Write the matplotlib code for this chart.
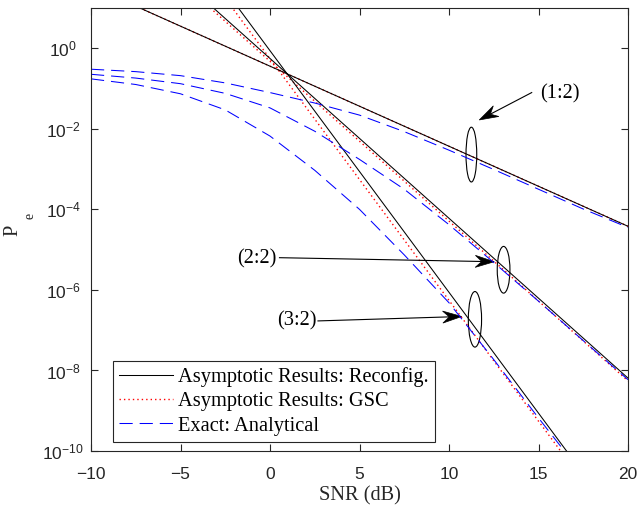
import numpy as np
import matplotlib
matplotlib.use("Agg")
import matplotlib.pyplot as plt
from matplotlib.patches import Ellipse, Polygon
from matplotlib.lines import Line2D
from matplotlib.ticker import NullLocator
from matplotlib.transforms import IdentityTransform

# ---------------- data ----------------
snr_asym = [-10, 20]
reconfig_12 = [34.9, 3.80e-5]
reconfig_22 = [5190.0, 6.46e-9]
reconfig_32 = [8.71e5, 8.71e-13]
gsc_12 = [34.9, 3.80e-5]
gsc_22 = [4416.0, 5.50e-9]
gsc_32 = [5.50e5, 5.50e-13]

snr_exact = [-10, -7.5, -5, -2.5, 0, 2.5, 5, 7.5, 10, 12.5, 15, 17.5, 20]
exact_12 = [3.02e-1, 2.63e-1, 2.09e-1, 1.38e-1, 7.94e-2, 4.37e-2, 2.19e-2,
            8.51e-3, 2.95e-3, 9.77e-4, 3.16e-4, 1.02e-4, 3.55e-5]
exact_22 = [2.26e-1, 1.82e-1, 1.32e-1, 7.59e-2, 3.31e-2, 8.71e-3, 1.74e-3,
            3.16e-4, 4.17e-5, 4.79e-6, 5.25e-7, 5.50e-8, 5.89e-9]
exact_32 = [1.74e-1, 1.26e-1, 7.41e-2, 2.95e-2, 6.61e-3, 9.33e-4, 1.00e-4,
            7.41e-6, 4.79e-7, 1.86e-8, 6.61e-10, 2.51e-11, 1.0e-12]

x_ticks = [-10, -5, 0, 5, 10, 15, 20]
y_ticks = [1e-10, 1e-8, 1e-6, 1e-4, 1e-2, 1e0]

legend_labels = ["Asymptotic Results: Reconfig.",
                 "Asymptotic Results: GSC",
                 "Exact: Analytical"]

# annotation anchors (snr dB, Pe)
ann_labels = ["(1:2)", "(2:2)", "(3:2)"]
ann_text_pos = [(15.08, 10**-1.13), (0.39, 10**-5.23), (2.62, 10**-6.76)]
ann_tail = [(14.62, 10**-1.10), (0.53, 10**-5.20), (2.68, 10**-6.77)]
ann_head = [(11.69, 10**-1.78), (12.53, 10**-5.30), (10.71, 10**-6.66)]
# ellipses: centre (snr, log10 Pe), width dB, height decades
ell_centres = [(11.25, -2.64), (13.05, -5.50), (11.45, -6.73)]
ell_sizes = [(0.60, 1.36), (0.71, 1.16), (0.74, 1.38)]

# ---------------- style ----------------
plt.rcParams["font.family"] = ["Liberation Sans", "DejaVu Sans"]
plt.rcParams["mathtext.fontset"] = "custom"
plt.rcParams["mathtext.rm"] = "Liberation Sans"
plt.rcParams["lines.scale_dashes"] = False
serif = ["Liberation Serif", "DejaVu Serif"]
axcol = "#262626"
fs = 14.7

W, H = 637, 508
fig = plt.figure(figsize=(W / 100, H / 100), dpi=100)
ax = fig.add_axes([91 / W, 1 - 451 / H, (628 - 91) / W, (451 - 8) / H])

lw = 0.75
dot = (0, (1.0, 2.2))
dash = (0, (9.5, 5.0))
for y in (gsc_12, gsc_22, gsc_32):
    ax.plot(snr_asym, y, color="red", lw=1.0, linestyle=dot, zorder=2)
for y in (reconfig_12, reconfig_22, reconfig_32):
    ax.plot(snr_asym, y, color="black", lw=lw, zorder=2.1)
for y in (exact_12, exact_22, exact_32):
    ax.plot(snr_exact, y, color="blue", lw=lw, linestyle=dash, zorder=2.2)

ax.set_yscale("log")
ax.set_xlim(-10, 20)
ax.set_ylim(1e-10, 1e1)
ax.set_xticks(x_ticks)
ax.set_yticks(y_ticks)
ax.yaxis.set_minor_locator(NullLocator())
ax.xaxis.set_minor_locator(NullLocator())
ax.tick_params(direction="in", top=True, right=True, length=5, width=0.8,
               colors=axcol, labelsize=12.5)
ax.tick_params(axis="x", pad=11.5)
ax.tick_params(axis="y", pad=20)
plt.setp(ax.get_yticklabels(), ha="center")
for s in ax.spines.values():
    s.set_color(axcol)
    s.set_linewidth(0.8)

ax.set_xlabel("SNR (dB)", family=serif, fontsize=fs, color=axcol, labelpad=3)

# y label P_e
fig.text(13 / W, 1 - 230 / H, "P", rotation=90, family=serif, fontsize=fs,
         ha="center", va="center", color=axcol)
fig.text(30.5 / W, 1 - 216 / H, "e", rotation=90, family=serif, fontsize=10,
         ha="center", va="center", color=axcol)

handles = [Line2D([], [], color="black", lw=lw),
           Line2D([], [], color="red", lw=1.0, linestyle=dot),
           Line2D([], [], color="blue", lw=lw, linestyle=dash)]
leg = ax.legend(handles, legend_labels, loc="lower left",
                bbox_to_anchor=(0.0404, 0.021), borderaxespad=0,
                prop={"family": serif, "size": fs}, handlelength=2.65,
                handletextpad=0.27, borderpad=0.3, labelspacing=0.24,
                fancybox=False, framealpha=1, edgecolor=axcol)
leg.get_frame().set_linewidth(0.8)

# annotations: text, shaft and MATLAB-like swept arrow head
head_len, head_half, notch = 19.0, 6.0, 12.5
for lab, tp, tl, hd in zip(ann_labels, ann_text_pos, ann_tail, ann_head):
    ha = "left" if lab == "(1:2)" else "right"
    ax.text(tp[0], tp[1], lab, family=serif, fontsize=fs, ha=ha,
            va="center", color="black")
    p0 = ax.transData.transform(tl)
    p1 = ax.transData.transform(hd)
    u = (p1 - p0) / np.hypot(*(p1 - p0))
    n = np.array([-u[1], u[0]])
    back = p1 - notch * u
    ax.add_line(Line2D([p0[0], back[0]], [p0[1], back[1]], color="black",
                       lw=0.8, transform=IdentityTransform()))
    verts = [p1, p1 - head_len * u + head_half * n, back,
             p1 - head_len * u - head_half * n]
    ax.add_patch(Polygon(verts, closed=True, facecolor="black",
                         edgecolor="black", lw=0.5,
                         transform=IdentityTransform(), clip_on=False))

for (cx, cy), (w, h) in zip(ell_centres, ell_sizes):
    e = Ellipse(((cx + 10) / 30, (cy + 10) / 11), w / 30, h / 11,
                transform=ax.transAxes, fill=False, edgecolor="black", lw=0.8)
    ax.add_patch(e)

fig.savefig("out.png", dpi=100)
